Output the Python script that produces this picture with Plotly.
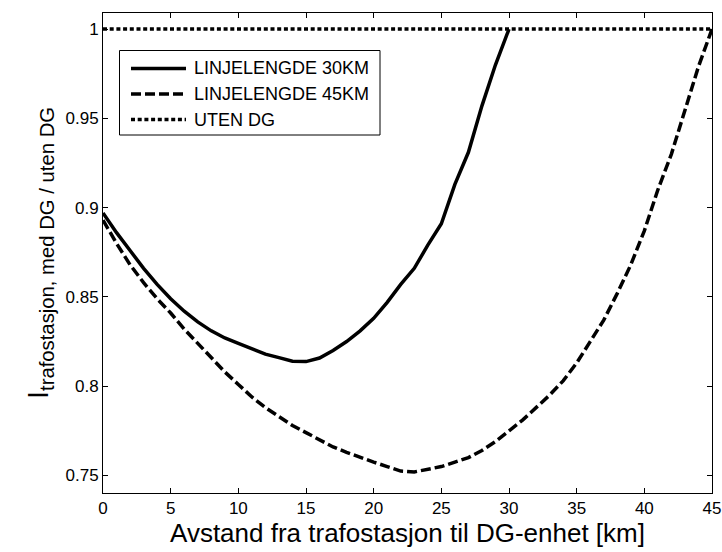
import plotly.graph_objects as go

# ---------------- data ----------------
x30 = list(range(0, 31))
y30 = [0.897, 0.886, 0.876, 0.866, 0.857, 0.849, 0.842, 0.836, 0.831, 0.827,
       0.824, 0.821, 0.818, 0.816, 0.814, 0.8138, 0.8158, 0.820, 0.825, 0.831,
       0.838, 0.847, 0.857, 0.866, 0.879, 0.891, 0.913, 0.931, 0.957, 0.980,
       1.000]

x45 = list(range(0, 46))
y45 = [0.893, 0.880, 0.868, 0.858, 0.849, 0.841, 0.832, 0.824, 0.816, 0.808,
       0.801, 0.794, 0.788, 0.783, 0.778, 0.774, 0.770, 0.766, 0.763, 0.760,
       0.7575, 0.755, 0.7525, 0.752, 0.7535, 0.755, 0.7575, 0.760, 0.764, 0.769,
       0.775, 0.781, 0.788, 0.795, 0.803, 0.813, 0.825, 0.837, 0.852, 0.868,
       0.887, 0.910, 0.930, 0.955, 0.979, 1.000]

x_ref = [0, 45]
y_ref = [1.0, 1.0]

legend_labels = ["LINJELENGDE 30KM", "LINJELENGDE 45KM", "UTEN DG"]
x_ticks = [0, 5, 10, 15, 20, 25, 30, 35, 40, 45]
y_ticks = [0.75, 0.8, 0.85, 0.9, 0.95, 1.0]
y_ticklabels = ["0.75", "0.8", "0.85", "0.9", "0.95", "1"]
x_title = "Avstand fra trafostasjon til DG-enhet [km]"
y_title = "I<sub>trafostasjon, med DG / uten DG</sub>"

# ---------------- layout geometry (pixels) ----------------
W, H = 722, 552
L, R, T, B = 103, 10, 13, 59
PW, PH = W - L - R, H - T - B

def px(x):
    return (x - L) / PW

def py(y):
    return 1 - (y - T) / PH

FONT = "Liberation Sans, Arial, sans-serif"
DASH = "10px,4px"
DOT = "4px,2.7px"

fig = go.Figure()
fig.add_trace(go.Scatter(x=x30, y=y30, mode="lines",
                         line=dict(color="black", width=3.5),
                         name=legend_labels[0], showlegend=False))
fig.add_trace(go.Scatter(x=x45, y=y45, mode="lines",
                         line=dict(color="black", width=3.5, dash=DASH),
                         name=legend_labels[1], showlegend=False))
fig.add_trace(go.Scatter(x=x_ref, y=y_ref, mode="lines",
                         line=dict(color="black", width=3.5, dash=DOT),
                         name=legend_labels[2], showlegend=False))

axis_common = dict(showline=True, linecolor="black", linewidth=1,
                   mirror="ticks", ticks="inside", ticklen=5,
                   tickcolor="black", tickwidth=1, showgrid=False,
                   zeroline=False, automargin=False,
                   tickfont=dict(family=FONT, size=17, color="black"))

fig.update_xaxes(range=[0, 45], tickvals=x_ticks,
                 title=dict(text=x_title, standoff=3,
                            font=dict(family=FONT, size=26, color="black")),
                 **axis_common)
fig.update_yaxes(range=[0.7402, 1.009], tickvals=y_ticks,
                 ticktext=y_ticklabels,
                 title=dict(text=y_title, standoff=8,
                            font=dict(family=FONT, size=29, color="black")),
                 **axis_common)

# manual legend (MATLAB style)
shapes = [dict(type="rect", xref="paper", yref="paper",
               x0=px(119.5), x1=px(380), y0=py(135), y1=py(50.5),
               line=dict(color="black", width=1), fillcolor="white",
               layer="above")]
annotations = []
row_y = [68.5, 94, 119.5]
dashes = ["solid", DASH, DOT]
for lab, ry, d in zip(legend_labels, row_y, dashes):
    shapes.append(dict(type="line", xref="paper", yref="paper",
                       x0=px(131), x1=px(186), y0=py(ry), y1=py(ry),
                       line=dict(color="black", width=3.5, dash=d),
                       layer="above"))
    annotations.append(dict(xref="paper", yref="paper", x=px(192), y=py(ry),
                            xanchor="left", yanchor="middle", text=lab,
                            showarrow=False,
                            font=dict(family=FONT, size=18, color="black")))

fig.update_layout(width=W, height=H,
                  margin=dict(l=L, r=R, t=T, b=B, pad=0),
                  paper_bgcolor="white", plot_bgcolor="white",
                  showlegend=False, shapes=shapes, annotations=annotations)

fig.write_html("out.html")
